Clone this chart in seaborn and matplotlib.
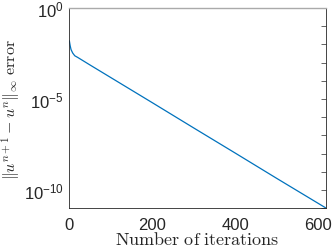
import numpy as np
import pandas as pd
import seaborn as sns
from matplotlib import pyplot as plt
from matplotlib.ticker import FixedLocator, FixedFormatter

# values (log10 of the error)
iters = [0, 1, 2, 4, 8, 13, 20, 50, 100, 200, 300, 400, 500, 618]
log_err = [-1.80, -1.95, -2.08, -2.28, -2.47, -2.62, -2.71, -3.13, -3.82,
           -5.20, -6.59, -7.97, -9.36, -10.98]
ytick_exp = [0, -5, -10]
xticks = [0, 200, 400, 600]

df = pd.DataFrame({'iter': iters, 'err': 10.0 ** np.array(log_err)})

sns.set_style('white')
plt.rcParams['font.family'] = ['Liberation Sans', 'DejaVu Sans']
plt.rcParams['mathtext.fontset'] = 'cm'

fig = plt.figure(figsize=(3.32, 2.53), dpi=100)
ax = fig.add_axes([0.209, 0.173, 0.772, 0.791])

sns.lineplot(data=df, x='iter', y='err', ax=ax, color='#0072BD', linewidth=0.9)
ax.set_yscale('log')
ax.set_xlim(0, 618)
ax.set_ylim(1e-11, 1)

ax.xaxis.set_major_locator(FixedLocator(xticks))
ax.set_xticklabels([str(t) for t in xticks])
ax.yaxis.set_major_locator(FixedLocator([10.0 ** e for e in ytick_exp]))
ax.yaxis.set_major_formatter(FixedFormatter([r'$\mathregular{10^{%d}}$' % e for e in ytick_exp]))
ax.yaxis.set_minor_locator(FixedLocator([10.0 ** e for e in range(-11, 1)]))
ax.yaxis.set_minor_formatter(FixedFormatter([''] * 12))

ax.tick_params(axis='both', which='both', direction='in', colors='#262626',
               labelcolor='#262626', labelsize=12, width=0.5)
ax.tick_params(axis='both', which='major', length=3.5)
ax.tick_params(axis='y', which='minor', length=3.5)
ax.tick_params(axis='y', which='both', right=True)
ax.tick_params(axis='x', which='major', pad=6.5)
ax.tick_params(axis='y', which='major', pad=4)

for s in ['left', 'bottom', 'right']:
    ax.spines[s].set_color('#262626')
    ax.spines[s].set_linewidth(0.6)
ax.spines['top'].set_color('#aaaaaa')
ax.spines['top'].set_linewidth(1.0)

ax.set_xlabel(r'$\mathrm{Number\ of\ iterations}$', fontsize=13, labelpad=-1)
ax.set_ylabel(r'$\|u^{n+1}-u^n\|_\infty\ \mathrm{error}$', fontsize=11.5, labelpad=1)

fig.savefig('out.png', dpi=100)
